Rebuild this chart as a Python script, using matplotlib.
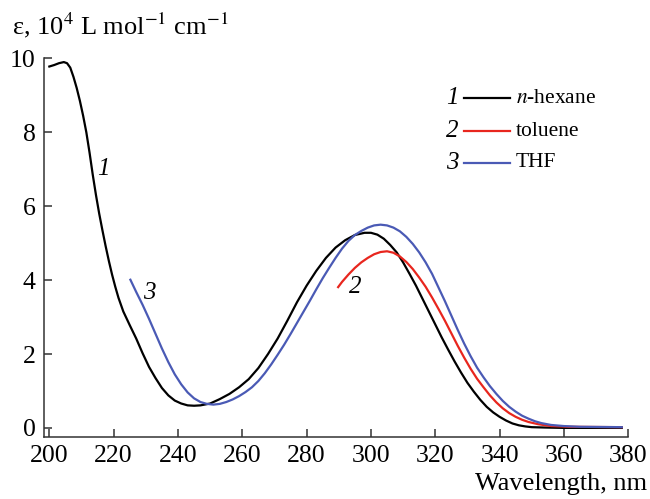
import numpy as np
import matplotlib
matplotlib.use('Agg')
from matplotlib import pyplot as plt

plt.rcParams['font.family'] = ['Liberation Serif', 'DejaVu Serif']
plt.rcParams['mathtext.fontset'] = 'stix'

# Absorption spectra (wavelength nm, eps in 1e4 L/mol/cm)
hexane_wl = [200, 201.5, 203, 204.5, 205.5, 206.5, 207.5, 208.5, 209.5, 210.5, 211.5,
             212.5, 213.5, 214.5, 215.5, 216.5, 217.5, 218.5, 219.5, 220.5, 221.5, 223,
             225, 227, 229, 231, 233, 235, 237, 239, 241, 243, 245, 247, 250, 253, 256,
             259, 262, 265, 268, 271, 274, 277, 280, 283, 286, 289, 292, 295, 298, 300,
             302, 304, 306, 308, 310, 312, 314, 316, 318, 320, 322, 324, 326, 328, 330,
             332, 334, 336, 338, 340, 342, 344, 346, 348, 350, 354, 360, 378]
hexane_eps = [9.78, 9.82, 9.87, 9.9, 9.87, 9.75, 9.5, 9.2, 8.85, 8.45, 8.0,
              7.45, 6.85, 6.3, 5.8, 5.35, 4.92, 4.52, 4.15, 3.82, 3.52, 3.15,
              2.78, 2.42, 2.02, 1.65, 1.35, 1.08, 0.88, 0.74, 0.66, 0.61, 0.6, 0.61, 0.66, 0.78, 0.92,
              1.1, 1.32, 1.62, 2.0, 2.42, 2.9, 3.4, 3.85, 4.25, 4.6, 4.88, 5.08, 5.22, 5.28, 5.28,
              5.23, 5.12, 4.95, 4.75, 4.48, 4.17, 3.85, 3.5, 3.15, 2.8, 2.45, 2.12, 1.8, 1.5, 1.22,
              0.98, 0.76, 0.57, 0.42, 0.3, 0.2, 0.12, 0.07, 0.04, 0.02, 0.01, 0.0, 0.0]

toluene_wl = [289.8, 291, 293, 295, 297, 299, 301, 303, 305, 307, 309, 311, 313, 315, 317,
              319, 321, 323, 325, 327, 329, 331, 333, 335, 337, 339, 341, 343, 345, 347,
              349, 352, 356, 362, 378]
toluene_eps = [3.81, 3.95, 4.15, 4.33, 4.48, 4.6, 4.7, 4.76, 4.78, 4.74, 4.64, 4.49, 4.3, 4.07, 3.82,
               3.53, 3.22, 2.9, 2.56, 2.22, 1.9, 1.6, 1.33, 1.1, 0.88, 0.69, 0.53, 0.4, 0.3, 0.22,
               0.16, 0.1, 0.05, 0.03, 0.02]

thf_wl = [225.2, 227, 229, 231, 233, 235, 237, 239, 241, 243, 245, 247, 249, 251, 253, 255,
          257, 259, 261, 263, 265, 267, 269, 271, 273, 275, 277, 279, 281, 283, 285, 287,
          289, 291, 293, 295, 297, 299, 301, 303, 305, 307, 309, 311, 313, 315, 317, 319,
          321, 323, 325, 327, 329, 331, 333, 335, 337, 339, 341, 343, 345, 347, 349, 351,
          353, 356, 360, 365, 378]
thf_eps = [4.01, 3.68, 3.33, 2.95, 2.55, 2.15, 1.78, 1.45, 1.18, 0.96, 0.8, 0.7, 0.65, 0.63, 0.65, 0.7,
           0.77, 0.86, 0.97, 1.1, 1.27, 1.48, 1.72, 1.98, 2.25, 2.54, 2.84, 3.14, 3.44, 3.75, 4.05, 4.33,
           4.6, 4.85, 5.06, 5.22, 5.33, 5.42, 5.48, 5.5, 5.48, 5.42, 5.32, 5.17, 4.98, 4.75, 4.48, 4.17,
           3.8, 3.43, 3.04, 2.65, 2.28, 1.94, 1.63, 1.37, 1.13, 0.92, 0.73, 0.57, 0.44, 0.33, 0.25, 0.18,
           0.13, 0.08, 0.05, 0.03, 0.02]

names = ['n-hexane', 'toluene', 'THF']
numbers = ['1', '2', '3']
colors = ['#000000', '#e8261e', '#4a5ab5']

fig = plt.figure(figsize=(6.5, 4.99), dpi=100)
ax = fig.add_axes([0.068, 0.125, 0.8985, 0.758])

ax.plot(hexane_wl, hexane_eps, color=colors[0], lw=1.6)
ax.plot(toluene_wl, toluene_eps, color=colors[1], lw=1.6)
ax.plot(thf_wl, thf_eps, color=colors[2], lw=1.6)

# curve numbers
ax.text(216.9, 7.0, '1', fontsize=18, style='italic', ha='center', va='center')
ax.text(295.0, 3.8, '2', fontsize=18, style='italic', ha='center', va='center')
ax.text(231.0, 3.65, '3', fontsize=18, style='italic', ha='center', va='center')

# hand-made legend
leg_y = [0.895, 0.808, 0.724]
leg_labels = ['$\\it{n}$-hexane', 'toluene', 'THF']
for i in range(3):
    ax.plot([0.718, 0.798], [leg_y[i], leg_y[i]], transform=ax.transAxes,
            color=colors[i], lw=1.6)
    ax.text(0.710, leg_y[i], numbers[i], transform=ax.transAxes, fontsize=18,
            style='italic', ha='right', va='center')
    ax.text(0.808, leg_y[i], leg_labels[i], transform=ax.transAxes, fontsize=15.5,
            ha='left', va='center')

ax.set_xlim(198.4, 380)
ax.set_ylim(-0.236, 10)
ax.set_xticks(np.arange(200, 381, 20))
ax.set_yticks([0, 2, 4, 6, 8, 10])

for s in ['top', 'right']:
    ax.spines[s].set_visible(False)
for s in ['left', 'bottom']:
    ax.spines[s].set_linewidth(1.1)
    ax.spines[s].set_color('#333333')
ax.tick_params(direction='in', length=6, width=1.1, color='#333333',
               labelsize=18.5, pad=6)

fig.text(0.018, 0.93, 'ε, 10$^4$ L mol$^{-1}$ cm$^{-1}$', fontsize=19,
         ha='left', va='baseline')
fig.text(0.995, 0.018, 'Wavelength, nm', fontsize=19, ha='right', va='baseline')

fig.savefig('out.png', dpi=100)
